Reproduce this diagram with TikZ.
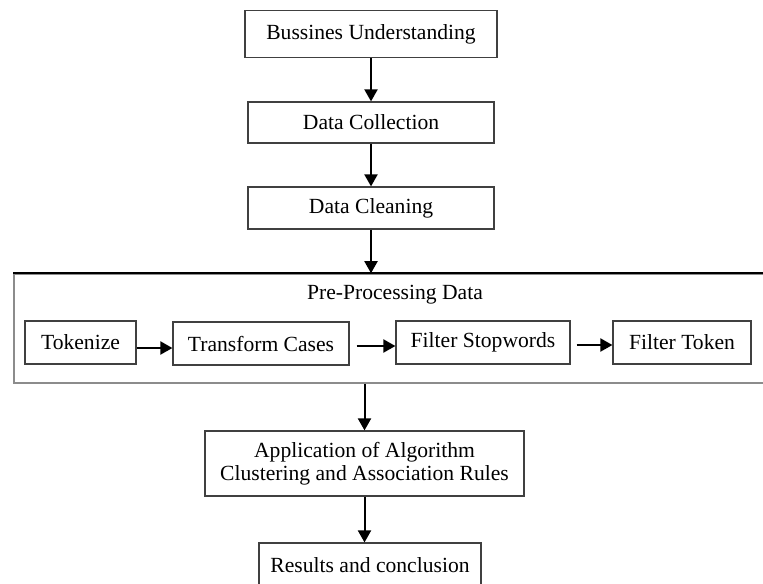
\documentclass[tikz,border=0pt]{standalone}
\usepackage{fontspec}
\setmainfont{Liberation Serif}
\usetikzlibrary{arrows.meta}

\begin{document}
\begin{tikzpicture}[
    x=0.5pt, y=-0.5pt,
    box/.style={draw=black!75, line width=0.6pt, rectangle, inner sep=0pt, align=center, font=\fontsize{10.8}{11.6}\selectfont},
    group/.style={draw=black!45, line width=0.8pt, rectangle, inner sep=0pt},
    arrow/.style={-{Triangle[length=6pt,width=6.5pt]}, line width=1pt}
]
    \useasboundingbox (0,0) rectangle (763,583);

    % Fasi iniziali
    \node[box, minimum width=126pt, minimum height=23.5pt] (business) at (371,34) {Bussines Understanding};
    \node[box, minimum width=123pt, minimum height=20.5pt] (collection) at (371,122.5) {Data Collection};
    \node[box, minimum width=123pt, minimum height=21pt] (cleaning) at (371,208) {Data Cleaning};

    % Pre-processing
    \node[group, minimum width=378pt, minimum height=54.5pt] (preproc) at (392,328.5) {};
    \draw[black, line width=0.8pt] (preproc.north west) -- (preproc.north east);
    \node[font=\fontsize{10.8}{11.6}\selectfont] (pretitle) at (395,295) {Pre-Processing Data};

    \node[box, minimum width=55.5pt, minimum height=21.5pt] (tokenize) at (80.5,342.5) {Tokenize};
    \node[box, minimum width=88pt, minimum height=21.5pt] (transform) at (261,343.5) {Transform Cases};
    \node[box, minimum width=87pt, minimum height=21.5pt] (stopwords) at (483,342.5) {Filter Stopwords};
    \node[box, minimum width=69pt, minimum height=21.5pt] (filtertoken) at (682,342.5) {Filter Token};

    % Fasi finali
    \node[box, minimum width=159.5pt, minimum height=32.5pt] (application) at (364.5,463.5) {Application of Algorithm\\Clustering and Association Rules};
    \node[box, minimum width=111pt, minimum height=22pt] (results) at (370,565) {Results and conclusion};

    % Frecce
    \draw[arrow] (business) -- (collection);
    \draw[arrow] (collection) -- (cleaning);
    \draw[arrow] (cleaning.south) -- (cleaning.south |- preproc.north);
    \draw[arrow] ([yshift=-2.75pt]tokenize.east) -- ([yshift=-2.75pt]tokenize.east -| transform.west);
    \draw[arrow, shorten <=3.5pt] ([yshift=-1.25pt]transform.east) -- ([yshift=-1.25pt]transform.east -| stopwords.west);
    \draw[arrow, shorten <=3pt] ([yshift=-1.25pt]stopwords.east) -- ([yshift=-1.25pt]stopwords.east -| filtertoken.west);
    \draw[arrow] (preproc.south -| application.north) -- (application.north);
    \draw[arrow] (application.south) -- (application.south |- results.north);

\end{tikzpicture}
\end{document}
